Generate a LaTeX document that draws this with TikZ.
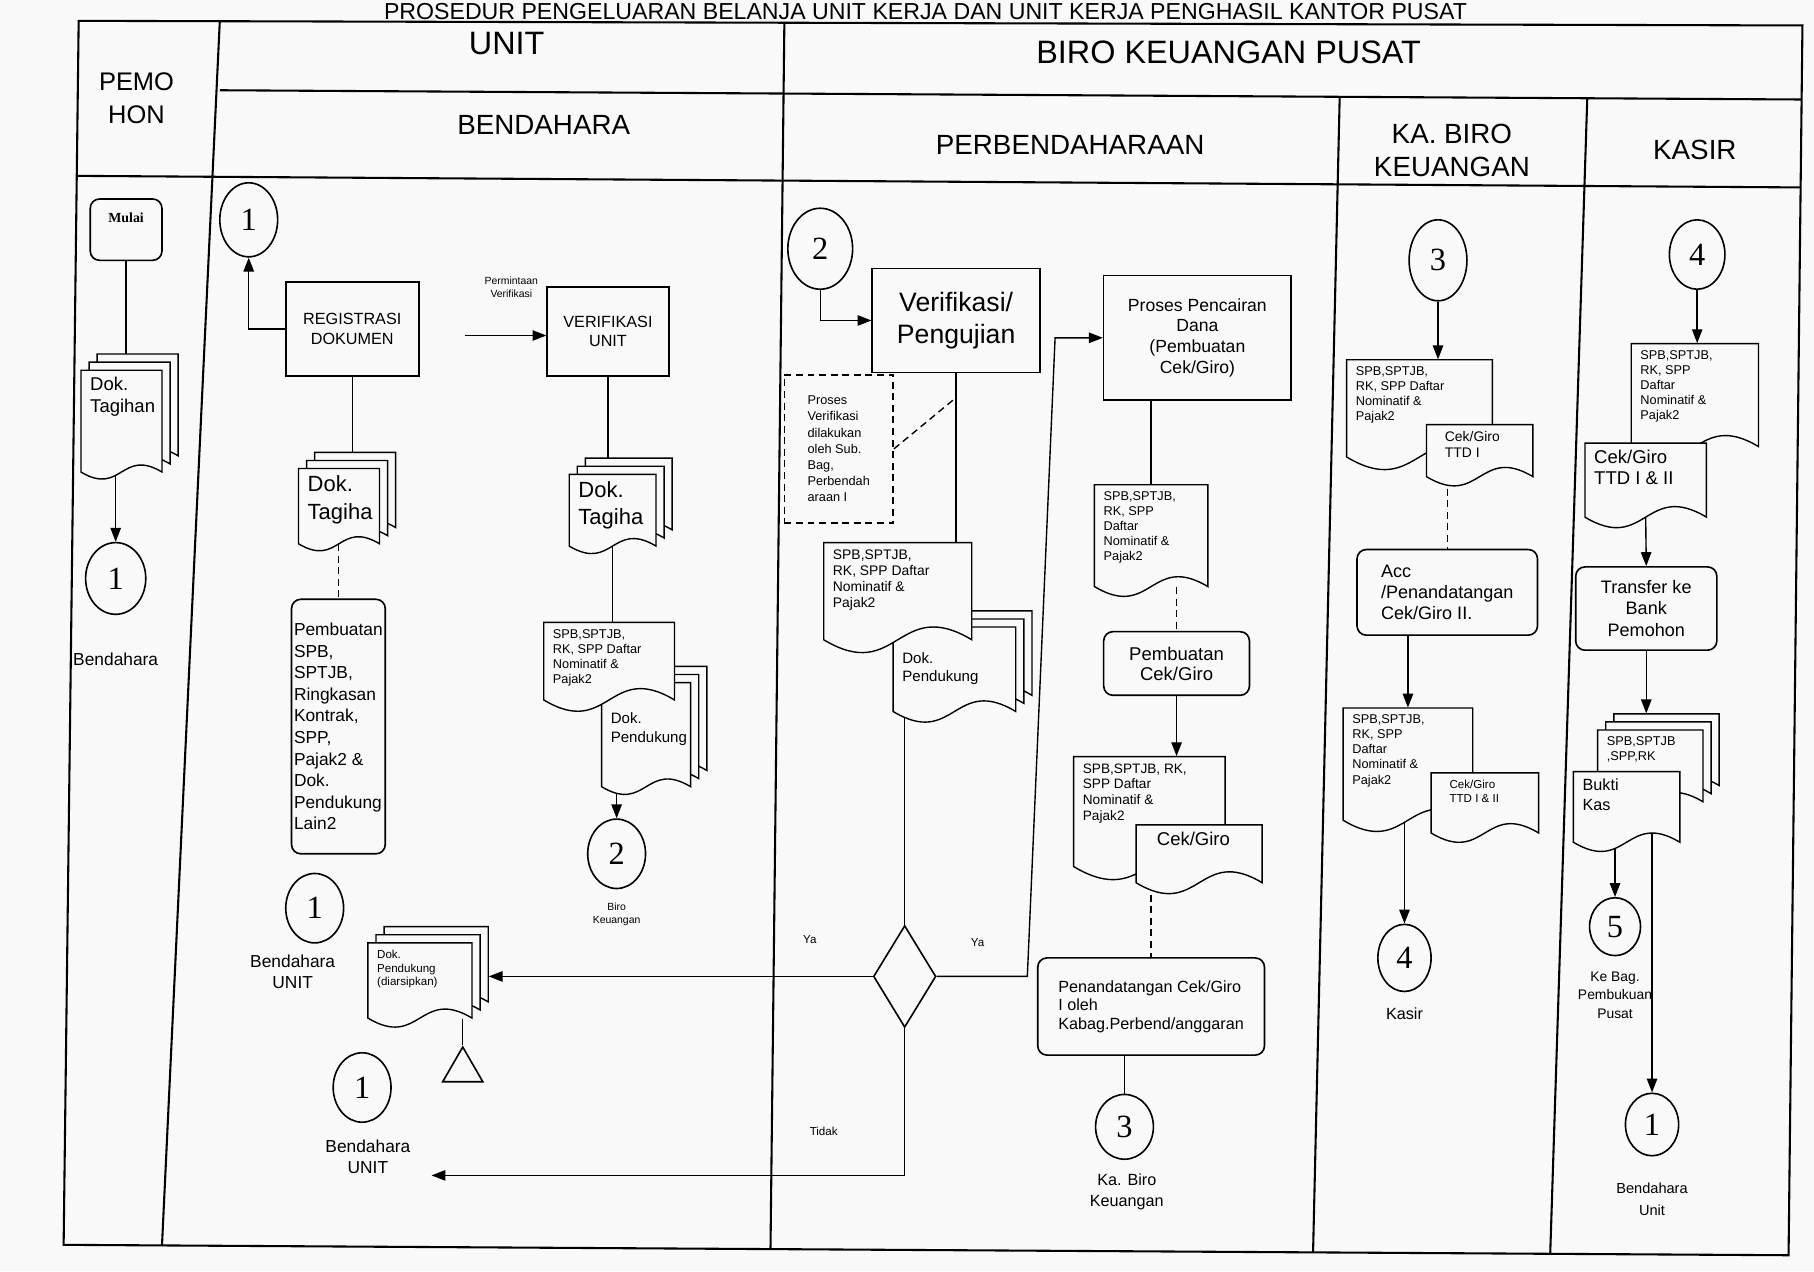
\documentclass[tikz,border=0pt]{standalone}
\usepackage{fontspec}
\setmainfont{Liberation Sans}
\newfontfamily\serif{Liberation Serif}
\usetikzlibrary{arrows.meta,shapes.geometric,fit,calc}
\pgfdeclarelayer{paper}
\pgfdeclarelayer{bg}
\pgfsetlayers{paper,bg,main}
\definecolor{bgc}{gray}{0.975}
\newcommand{\fs}[2]{\fontsize{#1}{#2}\selectfont}
\tikzset{
 frame/.style={line width=0.9pt},
 ln/.style={line width=0.6pt},
 arr/.style={ln,-{Triangle[length=6pt,width=4.5pt]}},
 dsh/.style={ln,dash pattern=on 3pt off 2pt},
 boxs/.style={draw,line width=0.7pt,fill=bgc,inner sep=1pt,align=center},
 rboxs/.style={boxs,rounded corners=4pt},
 docline/.style={draw,line width=0.6pt,fill=bgc},
 conn/.style={draw,ellipse,line width=0.7pt,inner sep=0,fill=bgc,font=\serif\fs{14}{14}},
 lbl/.style={align=center,inner sep=0},
}
\newcommand{\docshape}[4]{\path[docline] (#1,#2) -- (#3,#2) -- (#3,#4) .. controls ({((#1)+(#3))/2},{(#4)-0.3*((#3)-(#1))}) and ({((#1)+(#3))/2},{(#4)+0.3*((#3)-(#1))}) .. (#1,#4) -- cycle;}
\newcommand{\doc}[8][]{%
  \docshape{#3}{#4}{#5}{#6}
  \path (#3,#4) coordinate (#2-nw) (#5,#6) coordinate (#2-se);
  \node[fit=(#2-nw)(#2-se), inner sep=0] (#2) {};
  \node[anchor=north west, align=left, inner sep=0, font=#7, #1] (#2-t) at ([shift={(4pt,-3pt)}]#2.north west) {#8};}
\newcommand{\mdoc}[8][]{%
  \docshape{#3+14}{#4-14}{#5+14}{#6-14}
  \docshape{#3+7}{#4-7}{#5+7}{#6-7}
  \path (#3+14,#4-14) coordinate (#2-bnw) (#5+14,#6-14) coordinate (#2-bse);
  \node[fit=(#2-bnw)(#2-bse), inner sep=0] (#2-b) {};
  \doc[#1]{#2}{#3}{#4}{#5}{#6}{#7}{#8}}
\begin{document}
\begin{tikzpicture}[x=0.5pt,y=-0.5pt]
\useasboundingbox (0,0) rectangle (1568,1099);
\begin{pgfonlayer}{paper}
\fill[bgc] (0,0) rectangle (1568,1099);
\end{pgfonlayer}
% frame
\draw[frame] (68,18) -- (1558,22) -- (1546,1085) -- (55,1076) -- cycle;
\draw[frame] (190,78) -- (1557,86);
\draw[frame] (66,152) -- (1556,162);
\draw[frame] (190,18) -- (140,1077);
\draw[frame] (678,19) -- (666,1080);
\draw[frame] (1158,84) -- (1135,1082);
\draw[frame] (1372,85) -- (1340,1083);
% headers
\node[anchor=base, font=\fs{10}{12}] (title) at (800,17) {PROSEDUR PENGELUARAN BELANJA UNIT KERJA DAN UNIT KERJA PENGHASIL KANTOR PUSAT};
\node[align=center, font=\fs{11}{14}] (hpem) at (118,85) {PEMO\\HON};
\node[font=\fs{14}{16}] (hunit) at (438,38) {UNIT};
\node[font=\fs{14}{16}] (hbiro) at (1062,45) {BIRO KEUANGAN PUSAT};
\node[font=\fs{12}{14}] (hbend) at (470,108) {BENDAHARA};
\node[font=\fs{12}{14}] (hperb) at (925,125) {PERBENDAHARAAN};
\node[align=center, font=\fs{12}{14}] (hkb) at (1255,130) {KA. BIRO\\KEUANGAN};
\node[font=\fs{12}{14}] (hks) at (1465,130) {KASIR};

% ---------- PEMOHON
\node[rboxs, minimum width=31pt, minimum height=26.5pt] (mulai) at (109,198.5) {};
\node[font=\serif\bfseries\fs{6}{7}] (mulai-t) at (109,188) {Mulai};
\mdoc{tgh}{70}{320}{140}{408}{\fs{8}{9.5}}{Dok.\\Tagihan}
\node[conn, minimum width=26pt, minimum height=31pt] (c1a) at (100,500) {1};
\node[lbl, font=\fs{7.5}{9}] (l1a) at (100,570) {Bendahara};

% ---------- BENDAHARA
\node[conn, minimum width=25pt, minimum height=32pt] (c1b) at (215,190) {1};
\node[boxs, minimum width=57.5pt, minimum height=40.5pt, font=\fs{7}{8.5}] (reg) at (304.5,284.5) {REGISTRASI\\DOKUMEN};
\coordinate (pv) at (402,290);
\node[lbl, font=\fs{4.5}{5.5}] (lpv) at (442,248) {Permintaan\\Verifikasi};
\node[boxs, minimum width=52.5pt, minimum height=38.5pt, font=\fs{7}{8.5}] (ver) at (525.5,286.5) {VERIFIKASI\\UNIT};
\mdoc{dt1}{258}{405}{328}{470}{\fs{9.5}{12}}{Dok.\\Tagiha}
\node[rboxs, minimum width=40.5pt, minimum height=110pt, align=left, font=\fs{7.5}{9.3}] (pb) at (292.5,628) {Pembuatan\\SPB,\\SPTJB,\\Ringkasan\\Kontrak,\\SPP,\\Pajak2 \&\\Dok.\\Pendukung\\Lain2};
\mdoc{dt2}{492}{410}{567}{472}{\fs{9.5}{12}}{Dok.\\Tagiha}
\mdoc[yshift=-10pt]{dp1}{520}{590}{597}{680}{\fs{6.5}{8}}{Dok.\\Pendukung}
\doc{spb1}{470}{538}{583}{605}{\fs{5.5}{6.5}}{SPB,SPTJB,\\RK, SPP Daftar\\Nominatif \&\\Pajak2}
\node[conn, minimum width=25pt, minimum height=30pt] (c2a) at (533,738) {2};
\node[lbl, font=\fs{4.5}{5.5}] (l2a) at (533,790) {Biro\\Keuangan};
\node[conn, minimum width=25pt, minimum height=30pt] (c1c) at (272,785) {1};
\node[lbl, font=\fs{7.5}{9}] (l1c) at (253,840) {Bendahara\\UNIT};
\mdoc{arch}{318}{815}{408}{880}{\fs{5}{6}}{Dok.\\Pendukung\\(diarsipkan)}
\node[draw, regular polygon, regular polygon sides=3, minimum size=20pt, inner sep=0, line width=0.7pt] (arsip) at (400,925) {};
\node[conn, minimum width=25pt, minimum height=30pt] (c1d) at (313,940) {1};
\node[lbl, font=\fs{7.5}{9}] (l1d) at (318,1000) {Bendahara\\UNIT};
\coordinate (tdk) at (373,1016);
\node[lbl, font=\fs{5}{6}] (ltdk) at (712,978) {Tidak};
\node[lbl, font=\fs{5}{6}] (lya1) at (700,812) {Ya};
\node[lbl, font=\fs{5}{6}] (lya2) at (845,815) {Ya};

% ---------- PERBENDAHARAAN
\node[conn, minimum width=28pt, minimum height=35pt] (c2b) at (709,215) {2};
\node[boxs, minimum width=72.5pt, minimum height=45pt, font=\fs{11.5}{14}] (vp) at (826.5,277) {Verifikasi/\\Pengujian};
\node[draw, dsh, line width=0.7pt, minimum width=47pt, minimum height=64pt, align=left, font=\fs{5.5}{7}, inner sep=0] (dbox) at (725,388) {Proses\\Verifikasi\\dilakukan\\oleh Sub.\\Bag,\\Perbendah\\araan I};
\coordinate (vl) at (826,344);
\mdoc[yshift=-8pt]{dp2}{772}{542}{878}{615}{\fs{6.5}{8}}{Dok.\\Pendukung}
\doc{spbp1}{712}{469}{840}{553}{\fs{6}{7}}{SPB,SPTJB,\\RK, SPP Daftar\\Nominatif \&\\Pajak2}
\node[draw, diamond, minimum width=27pt, minimum height=44pt, inner sep=0, line width=0.7pt, fill=bgc] (dec) at (782,844) {};
\coordinate (yR) at (888,844);
\coordinate (yT) at (912,292);
\node[boxs, minimum width=81pt, minimum height=54pt, font=\fs{7.6}{9}] (pp) at (1035,292) {Proses Pencairan\\Dana\\(Pembuatan\\Cek/Giro)};
\doc{pd}{946}{419}{1044}{507}{\fs{5.5}{6.5}}{SPB,SPTJB,\\RK, SPP\\Daftar\\Nominatif \&\\Pajak2}
\node[rboxs, minimum width=63pt, minimum height=27.5pt, font=\fs{8}{8.6}] (pcg) at (1017,573.5) {Pembuatan\\Cek/Giro};
\doc{spbp2}{928}{654}{1059}{749}{\fs{5.9}{6.8}}{SPB,SPTJB, RK,\\SPP Daftar\\Nominatif \&\\Pajak2}
\doc[xshift=5pt]{cgp}{982}{713}{1091}{763}{\fs{8}{9}}{Cek/Giro}
\node[rboxs, minimum width=98pt, minimum height=42pt, align=left, font=\fs{7}{8}] (ptd) at (995,870) {Penandatangan Cek/Giro\\I oleh\\Kabag.Perbend/anggaran};
\node[conn, minimum width=25pt, minimum height=28pt] (c3a) at (972,974) {3};
\node[lbl, font=\fs{7}{9}] (l3a) at (974,1030) {Ka. Biro\\Keuangan};

% ---------- KA. BIRO KEUANGAN
\node[conn, minimum width=25pt, minimum height=35pt] (c3b) at (1243,225) {3};
\doc{kb1}{1164}{311}{1290}{395}{\fs{5.5}{6.5}}{SPB,SPTJB,\\RK, SPP Daftar\\Nominatif \&\\Pajak2}
\doc[xshift=4pt]{cg1}{1233}{367}{1325}{412}{\fs{6}{7}}{Cek/Giro\\TTD I}
\node[rboxs, minimum width=78pt, minimum height=37pt, align=left, font=\fs{7.8}{9}] (acc) at (1251,512) {Acc\\/Penandatangan\\Cek/Giro II.};
\doc{kb2}{1161}{612}{1273}{709}{\fs{5.5}{6.5}}{SPB,SPTJB,\\RK, SPP\\Daftar\\Nominatif \&\\Pajak2}
\doc[xshift=4pt]{cg2}{1237}{668}{1330}{720}{\fs{5}{6}}{Cek/Giro\\TTD I \& II}
\node[conn, minimum width=23pt, minimum height=29pt] (c4a) at (1214,828) {4};
\node[lbl, font=\fs{7}{8}] (l4a) at (1214,876) {Kasir};

% ---------- KASIR
\node[conn, minimum width=24pt, minimum height=30pt] (c4b) at (1467,220) {4};
\doc{ks1}{1410}{297}{1520}{386}{\fs{5.5}{6.5}}{SPB,SPTJB,\\RK, SPP\\Daftar\\Nominatif \&\\Pajak2}
\doc{cg3}{1370}{383}{1475}{447}{\fs{8}{9}}{Cek/Giro\\TTD I \& II}
\node[rboxs, minimum width=61pt, minimum height=36pt, font=\fs{7.8}{9.4}] (tr) at (1423,526) {Transfer ke\\Bank\\Pemohon};
\mdoc{sk}{1381}{631}{1472}{693}{\fs{5.5}{6.5}}{SPB,SPTJB\\,SPP,RK}
\doc{bk}{1360}{667}{1452}{728}{\fs{7}{8.5}}{Bukti\\Kas}
\node[conn, minimum width=22pt, minimum height=25pt] (c5) at (1396,801) {5};
\node[lbl, font=\fs{6}{8}] (l5) at (1396,860) {Ke Bag.\\Pembukuan\\Pusat};
\node[conn, minimum width=23pt, minimum height=27pt] (c1e) at (1428,972) {1};
\node[lbl, font=\fs{6.3}{9.5}] (l1e) at (1428,1037) {Bendahara\\Unit};

% ---------- connectors
\begin{pgfonlayer}{bg}
\draw[ln] (mulai.south) -- (mulai.south |- tgh-b.north);
\draw[arr] (c1a.north |- tgh.south) -- (c1a.north);
\draw[arr] (reg.west) -| (c1b.south);
\draw[arr] (pv) -- (pv -| ver.west);
\draw[ln] (reg.south) -- (reg.south |- dt1-b.north);
\draw[dsh] (pb.north |- dt1.south) -- (pb.north);
\draw[ln] (ver.south) -- (ver.south |- dt2-b.north);
\draw[ln] (dt2.south) -- (dt2.south |- spb1.north);
\draw[arr] (c2a.north |- dp1.south) -- (c2a.north);
\draw[ln] (arsip.north |- arch.south) -- (arsip.north);
\draw[arr] (dec.west) -- (dec.west -| arch-b.east);
\draw[arr] (dec.south) |- (tdk);
\draw[arr] (c2b.south) |- (vp.west);
\draw[ln] (vp.south) -- (vp.south |- spbp1.north);
\draw[dsh] (dbox.east) -- (vl);
\draw[ln] (dec.north |- dp2.south) -- (dec.north);
\draw[arr] (dec.east) -- (yR) -- (yT) -- (yT -| pp.west);
\draw[ln] (pd.north |- pp.south) -- (pd.north);
\draw[dsh] (pcg.north |- pd.south) -- (pcg.north);
\draw[arr] (pcg.south) -- (pcg.south |- spbp2.north);
\draw[dsh] (ptd.north |- cgp.south) -- (ptd.north);
\draw[ln] (c3a.north |- ptd.south) -- (c3a.north);
\draw[arr] (c3b.south) -- (c3b.south |- kb1.north);
\draw[dsh] (acc.north |- cg1.south) -- (acc.north);
\draw[arr] (kb2.north |- acc.south) -- (kb2.north);
\draw[arr] (c4a.north |- kb2.south) -- (c4a.north);
\draw[arr] (c4b.south) -- (c4b.south |- ks1.north);
\draw[arr] (cg3.south) -- (tr.north);
\draw[arr] (tr.south) -- (tr.south |- sk-b.north);
\draw[arr] (c5.north |- bk.south) -- (c5.north);
\draw[arr] (c1e.north |- sk.south) -- (c1e.north);
\end{pgfonlayer}
\end{tikzpicture}
\end{document}
